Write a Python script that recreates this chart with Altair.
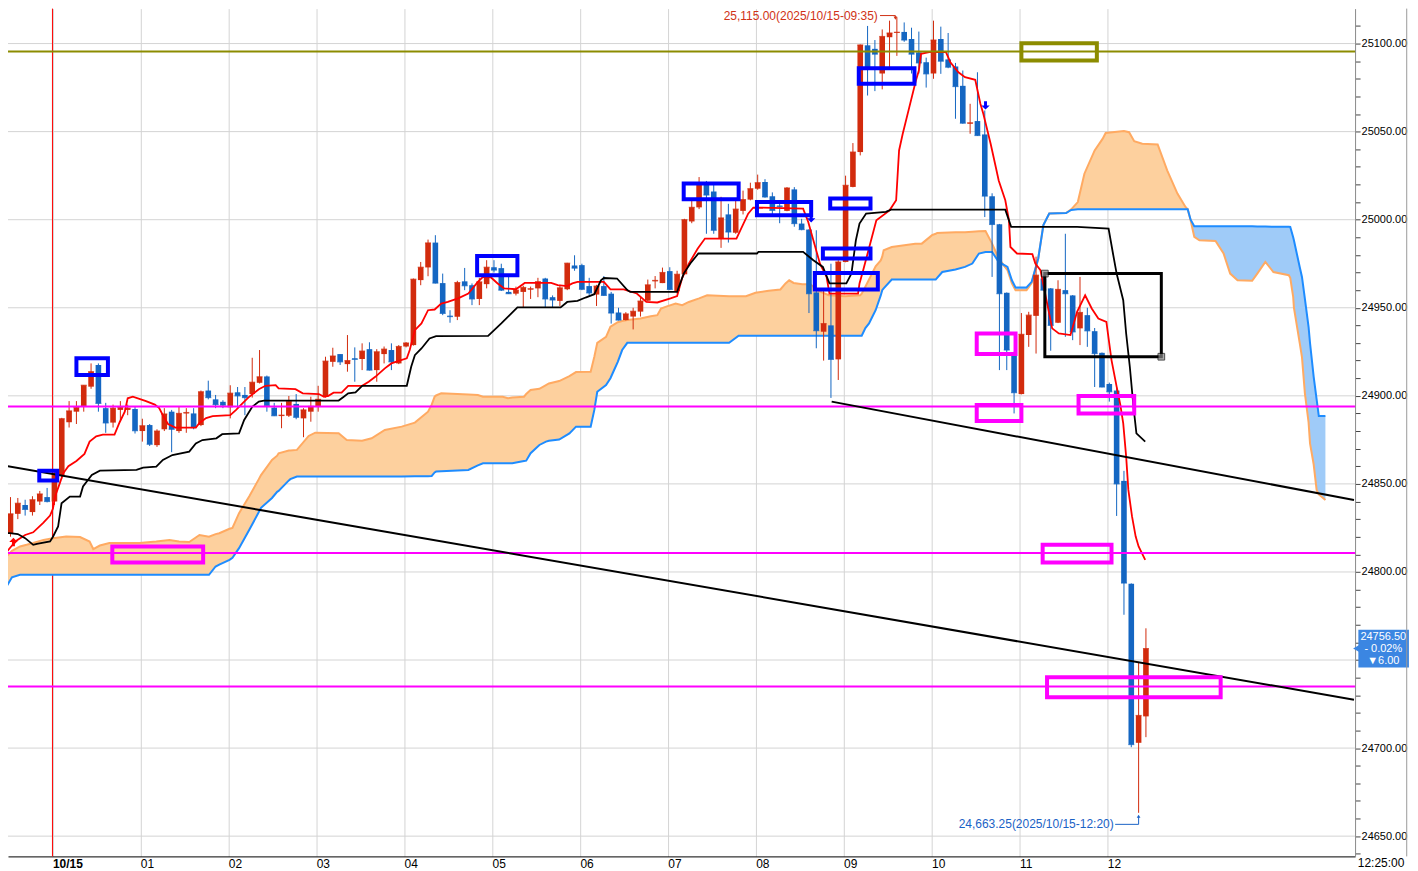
import altair as alt
import pandas as pd

# ---------------- data ----------------
# 5-minute bars, index 0 = 10/15 00:00
cdl_i = list(range(-7, 150))
cdl_o = [24816.7, 24822, 24833, 24838, 24834, 24840, 24842.5,
         24840, 24855, 24885, 24891, 24894, 24905.2, 24917.5, 24893, 24884.8, 24892, 24892, 24892.5,
         24880, 24883.4, 24872, 24881, 24891, 24880, 24890, 24890, 24883.4, 24903, 24898, 24896.6,
         24893.5, 24902, 24900.5, 24901, 24907.4, 24911, 24893.3, 24888.5, 24888.7, 24895.4, 24887.2, 24891,
         24894.2, 24899.5, 24919.3, 24923.7, 24918, 24921.3, 24920.9, 24926.5, 24914.6, 24923.7, 24926, 24918.4,
         24928, 24928.8, 24965.7, 24972.9, 24987, 24964, 24945.5, 24944.9, 24965, 24962.8, 24955, 24963.4,
         24973, 24972.5, 24959, 24958, 24959, 24960.3, 24961, 24966.6, 24956, 24953.9, 24960.5, 24974,
         24974.2, 24962.3, 24957.5, 24962.3, 24958, 24947.3, 24943, 24945, 24947.8, 24954, 24965, 24964,
         24970.8, 24959.5, 24969, 24999, 25007, 25020, 25016, 24989.3, 25003, 24992.6, 25005, 25011.4,
         25017.6, 25021.4, 25013.3, 25008, 25005, 25017.2, 24997.8, 24994.4, 24958.7, 24936.4, 24940, 24920.7,
         24976, 25018.6, 25038.4, 25099, 25097, 25083, 25103.6, 25106, 25106.6, 25102.6, 25095, 25089.4,
         25083, 25102.6, 25091, 25087, 25076, 25054.5, 25056, 25048.4, 25013.3, 24997.4, 24958.5, 24924.7,
         24901, 24934.5, 24945.4, 24966.6, 24961, 24941.5, 24960, 24957, 24938.3, 24945.8, 24936.7, 24924.4,
         24906.7, 24903, 24851.7, 24793.3, 24703, 24718]
cdl_h = [24826, 24842.5, 24842, 24841, 24843, 24846, 24847.7,
         24857, 24887.5, 24897, 24897, 24906, 24918.4, 24918.4, 24896, 24895, 24897, 24895, 24894,
         24887, 24884, 24881, 24893, 24892, 24894, 24893, 24893, 24903, 24908.6, 24900.5, 24897.5,
         24906, 24905, 24905, 24921.6, 24926, 24911.5, 24896, 24896, 24899.9, 24901, 24893, 24899.5,
         24905.7, 24922.2, 24927.3, 24923.7, 24934.5, 24927.5, 24929.8, 24930.4, 24926.5, 24928, 24929.8, 24928.8,
         24930.5, 24966.6, 24976, 24988.7, 24991.2, 24969.4, 24948.6, 24965.3, 24972.6, 24963.8, 24967, 24977,
         24977, 24975, 24968, 24962, 24962.5, 24962, 24967, 24967, 24957, 24963, 24975.5, 24979.8,
         24975, 24967, 24963, 24968, 24959, 24950, 24947.5, 24950, 24956, 24966, 24968, 24972.8,
         24973, 24971, 25000.5, 25011, 25024.2, 25022, 25021, 25013, 25009, 25011, 25016.5, 25021,
         25025.6, 25023, 25015.5, 25011, 25018.5, 25018.5, 25000.5, 24994.6, 24994, 24960, 24975, 24977,
         25025, 25043.5, 25099.5, 25110, 25102, 25108, 25113, 25115, 25112, 25109, 25106.8, 25092,
         25113, 25109.6, 25106, 25089, 25084.7, 25065.8, 25083.7, 25062, 25015, 24997.6, 24958.7, 24925,
         24947, 24947.7, 24979, 24969, 24961.2, 24965.6, 24992, 24957.2, 24967.5, 24950, 24938.5, 24924.6,
         24907.5, 24905, 24857.4, 24793.5, 24749, 24768]
cdl_l = [24814, 24820, 24830, 24832, 24832, 24838, 24839.5,
         24838, 24853, 24882, 24884, 24891, 24904, 24891, 24879, 24882, 24886, 24889, 24878.6,
         24874, 24871.5, 24871, 24880, 24868, 24879, 24879, 24881, 24882.8, 24898, 24893, 24893,
         24887.2, 24893, 24889, 24899, 24907, 24891, 24888.5, 24881.6, 24888, 24886.7, 24876.5, 24885.3,
         24891, 24899, 24916.5, 24917.5, 24913.7, 24908, 24914.6, 24914.4, 24908, 24918.4, 24914.6, 24918,
         24927.5, 24928.5, 24962.8, 24967.9, 24963.8, 24945.8, 24941.5, 24943, 24960, 24951.5, 24951.5, 24961,
         24970, 24959.5, 24957.8, 24957, 24950, 24955, 24956, 24950, 24950, 24951, 24960, 24971,
         24960, 24957, 24951, 24956.8, 24941, 24942.8, 24942.8, 24937.7, 24945, 24953.5, 24961, 24964,
         24960, 24958, 24968.8, 24998, 25006, 24992, 24992, 24984, 24987, 24992, 25003, 25011,
         25017, 25012.5, 25001.8, 24998, 25004.8, 24996, 24994, 24947, 24927, 24920, 24898.8, 24909,
         24975.8, 25018.4, 25036.5, 25070.5, 25073, 25074, 25086.6, 25093, 25101, 25083, 25083, 25075,
         25080, 25082.8, 25086, 25057.3, 25054.5, 25048.8, 25047.6, 25001.5, 24967.5, 24914.6, 24914.6, 24890,
         24900.8, 24927.8, 24924, 24959.8, 24925.6, 24941.3, 24933.5, 24931.6, 24928.8, 24927.8, 24905, 24904.8,
         24896.7, 24831.8, 24775.7, 24700.5, 24663.25, 24706.2]
cdl_c = [24822.4, 24833, 24839, 24835.5, 24841, 24844.3, 24840,
         24856, 24887, 24891.4, 24893.4, 24906, 24913.7, 24895.7, 24884.6, 24893, 24893.4, 24893, 24880.2,
         24883, 24872.5, 24880, 24889.7, 24881, 24890, 24890.5, 24882, 24902.3, 24899, 24895, 24894.7,
         24901.5, 24900, 24899, 24907.7, 24910.8, 24894.4, 24888.7, 24889, 24896.7, 24887.8, 24892, 24894,
         24898, 24919.7, 24922.6, 24919.3, 24920, 24920.7, 24925.4, 24914.6, 24925, 24926.5, 24919.3, 24928,
         24930, 24966.2, 24973, 24986.8, 24964, 24946.8, 24945, 24964.3, 24962.5, 24955, 24964.7, 24973,
         24971.4, 24960, 24958, 24960, 24961.5, 24960.8, 24964.8, 24955, 24954.4, 24961.3, 24975.3, 24972.5,
         24960.5, 24958.4, 24962.3, 24957, 24947, 24943, 24946.5, 24948, 24953.8, 24963, 24965.5, 24970,
         24960.4, 24969, 25000, 25007, 25021, 25014, 24994, 25001, 24993, 25006, 25011.4, 25017.6,
         25021, 25012.9, 25005.3, 25007.5, 25018, 24997.8, 24994.4, 24958, 24937, 24941, 24920.7, 24976,
         25019.5, 25038.4, 25099.2, 25085.7, 25094, 25104, 25106, 25106.4, 25102, 25094, 25089, 25082.8,
         25102, 25090, 25086.6, 25075.6, 25054.8, 25055, 25047.8, 25013.4, 24997.3, 24958, 24926, 24901.8,
         24934.9, 24945.8, 24968.5, 24960, 24940, 24960.4, 24958, 24936.3, 24947.3, 24936.9, 24924, 24905,
         24902.3, 24850, 24793.7, 24702, 24718.5, 24756.5]

# conversion line (red) and base line (black): (bar index, price)
tenkan = [(-7.4, 24812), (-6.4, 24812), (-5.8, 24815), (-5.1, 24818), (-4, 24821), (-2.9, 24822.5),
          (-1.5, 24828), (-0.6, 24832), (-0.2, 24836), (0.1, 24843), (0.7, 24850), (1.2, 24856),
          (1.9, 24860), (3, 24863), (4.1, 24867), (4.8, 24874), (5.7, 24877), (6.6, 24878), (8.2, 24878),
          (8.9, 24885), (9.6, 24891), (10, 24898.6), (10.7, 24899.5), (12.5, 24897), (13.7, 24895),
          (14.3, 24893), (14.8, 24889), (15.5, 24884), (16.5, 24882), (19.3, 24882), (19.8, 24884.6),
          (20.7, 24887.4), (21.6, 24888.5), (24, 24889), (24.8, 24892), (25.7, 24895.8), (26.6, 24899.5),
          (27.2, 24901.4), (27.9, 24903.7), (28.8, 24905.7), (30.2, 24906.1), (30.6, 24904.2),
          (32.9, 24903.8), (33.9, 24901.4), (36.1, 24901), (36.8, 24899.5), (37.4, 24900), (38.1, 24901.8),
          (39.2, 24901.8), (40.1, 24905.7), (42, 24905.7), (42.9, 24908), (43.8, 24910.8), (45.1, 24915.6),
          (46, 24918.4), (46.9, 24919.7), (48.1, 24921.3), (48.5, 24926), (49.2, 24937.3), (50.1, 24941.1),
          (51, 24948.6), (51.9, 24949), (52.8, 24952.4), (53.7, 24953.3), (55.1, 24955.3), (56.5, 24958.1),
          (57.8, 24964.7), (58.5, 24967.5), (59.6, 24967.2), (60.5, 24963.8), (61.4, 24961), (63, 24960.5),
          (64.2, 24964.1), (67.8, 24964.1), (68.7, 24962.8), (70, 24962.3), (70.7, 24963.8), (71.4, 24964.7),
          (75, 24964.7), (75.9, 24960.5), (77.7, 24960.4), (79.5, 24958.1), (80.8, 24953.3), (82.3, 24953),
          (84.1, 24955.3), (85, 24956.6), (85.7, 24967), (86.6, 24975), (87.8, 24983.5), (88.8, 24989.3),
          (93.1, 24989.3), (94.7, 25003.4), (95.4, 25006.9), (102.2, 25006.3), (102.9, 24998.7),
          (104.5, 24975), (105.4, 24967.5), (105.8, 24958), (109.7, 24958), (109.9, 24963.8),
          (110.4, 24971.3), (112.2, 24999.7), (114, 25005.3), (114.9, 25011), (115.3, 25039.3),
          (115.8, 25048.8), (116.7, 25063.9), (117.6, 25079), (118, 25084.7), (118.3, 25094.2),
          (119.4, 25095.1), (121.7, 25095.1), (122.3, 25089.4), (123.4, 25083.7), (124.3, 25080.9),
          (125.7, 25079.4), (126.4, 25065.8), (126.8, 25060.1), (127.8, 25043.1), (128.5, 25029.9),
          (128.9, 25022.3), (129.8, 25011), (130.3, 24999.7), (130.5, 24984.5), (131.4, 24980.8),
          (133.5, 24980.4), (133.9, 24975.1), (134.6, 24971.3), (136.2, 24938.3), (137.1, 24935.4),
          (138.7, 24934.5), (139.6, 24947.7), (140.7, 24957.1), (141.6, 24949.6), (142.5, 24943.9),
          (143.6, 24942), (144.3, 24920.3), (145, 24905.2), (145.5, 24895), (145.9, 24884.4),
          (146.3, 24865.5), (146.6, 24846.6), (147.1, 24831.5), (147.6, 24820.1), (148, 24814.5),
          (148.9, 24806.9)]
kijun = [(-7.4, 24822), (-6.1, 24822), (-5, 24821.5), (-4, 24819.2), (-2.9, 24815.4), (-2.4, 24816),
         (-0.6, 24817.3), (-0.2, 24820), (0.5, 24825.8), (0.97, 24839), (2.1, 24842.8), (3.5, 24842.8),
         (3.9, 24848.5), (5.1, 24855.1), (6.2, 24857.5), (11.2, 24857.9), (12.1, 24859.2), (13.9, 24859.8),
         (14.8, 24863.6), (16.1, 24866.4), (18.4, 24868.3), (19.3, 24873), (20.2, 24874.9), (22.1, 24875.9),
         (22.9, 24878.2), (25.2, 24878.7), (25.9, 24886.3), (27, 24893.8), (27.9, 24896.7), (28.6, 24897.3),
         (38.8, 24897.3), (39.5, 24899.5), (40.1, 24901.4), (41.1, 24902), (42, 24905.7), (48.1, 24905.7),
         (48.7, 24916.5), (49.2, 24923.1), (50.1, 24926.9), (51.2, 24932.6), (52.1, 24933.9), (59.2, 24934),
         (61, 24941.1), (63.2, 24950.2), (69.1, 24950.2), (70, 24953.3), (71.4, 24953.9), (72.5, 24955.8),
         (73.7, 24957.7), (74.6, 24965.6), (75, 24966.9), (76.8, 24966.6), (78.2, 24960), (78.6, 24959),
         (85, 24959), (85.9, 24969.4), (86.8, 24975.1), (87.9, 24980.8), (95.9, 24980.8), (96.1, 24981.7),
         (102.2, 24981.7), (103.6, 24977), (104.9, 24973.2), (105.8, 24963.8), (108.1, 24963.8),
         (108.8, 24969.4), (109.4, 24988.3), (109.9, 24997.8), (110.8, 25003.5), (113.5, 25004.4),
         (114.2, 25005.7), (129.8, 25005.7), (130.6, 24995.9), (139.6, 24995.9), (143.9, 24995),
         (144.5, 24980.8), (145, 24969.4), (145.9, 24954.3), (146.3, 24935.4), (146.8, 24916.5),
         (147.3, 24893.8), (147.7, 24878.7), (148.9, 24874)]

# leading spans A (orange) and B (blue): (bar index, span A, span B)
cloud = [(-7.4, 24803, 24785), (-6.5, 24809, 24792), (-5.8, 24812, 24797), (-4.7, 24814.5, 24798.4),
         (-3.8, 24815.4, 24798.4), (-2.9, 24816.4, 24798.4), (-1.5, 24818.2, 24798.4), (-0.2, 24819.2, 24798.4),
         (1.6, 24820.1, 24798.4), (3.5, 24819.8, 24798.4), (4.8, 24817.3, 24798.4), (5.3, 24813, 24798.4),
         (6.2, 24815, 24798.4), (7.5, 24816.4, 24798.4), (11.6, 24816.4, 24798.4), (13.9, 24817.3, 24798.4),
         (15.7, 24818.2, 24798.4), (17, 24817.3, 24798.4), (18.4, 24817, 24798.4), (19.8, 24821, 24798.4),
         (21.1, 24820, 24798.4), (22, 24821.5, 24803.1), (22.5, 24822, 24804.2), (23.9, 24824.5, 24806.9),
         (24.3, 24825, 24808), (25.2, 24833.4, 24813.5), (26.6, 24843, 24824), (27.9, 24852.7, 24834),
         (28.2, 24855, 24836.4), (29.7, 24863.6, 24842), (30.4, 24866, 24845.5), (30.6, 24867.4, 24846),
         (32, 24868.9, 24852), (32.2, 24869, 24852.7), (33.1, 24869.3, 24854.2), (34.7, 24877.2, 24854.2),
         (35.6, 24879.1, 24854.2), (38.8, 24878.7, 24854.2), (39.9, 24874.9, 24854.2), (42, 24874.5, 24854.2),
         (43.3, 24875.9, 24854.2), (45.1, 24880.6, 24854.2), (47.4, 24882.5, 24854.2), (49.2, 24884.8, 24854.3),
         (51, 24891, 24854.4), (51.5, 24895, 24854.5), (51.9, 24899.5, 24856.5), (52.1, 24900.2, 24857),
         (52.8, 24901.4, 24857.2), (56.5, 24900.8, 24857.9), (57.8, 24900.5, 24860.5), (58.5, 24899.5, 24861.7),
         (61.2, 24899.5, 24861.7), (61.9, 24898.6, 24861.7), (62.5, 24899, 24861.7), (64.1, 24899.5, 24863),
         (64.4, 24901, 24863.2), (65, 24903.3, 24867.4), (66.2, 24904, 24872.1), (67.1, 24906.1, 24874),
         (67.5, 24907, 24874.5), (68.9, 24908.4, 24875.2), (70.3, 24911.2, 24878.7), (71.2, 24913.5, 24882.5),
         (73.2, 24913.7, 24882.5), (73.7, 24922.2, 24892), (74.1, 24930.1, 24902.3), (75.3, 24933.5, 24906.1),
         (75.9, 24939.2, 24910), (76.2, 24940, 24912.8), (76.9, 24941.8, 24919.3), (77.5, 24942.5, 24926),
         (78.2, 24943, 24930.1), (80, 24943.9, 24930.1), (81.4, 24945.2, 24930.1), (82.3, 24945.8, 24930.1),
         (82.8, 24949.6, 24930.1), (83.7, 24950.9, 24930.1), (84.8, 24952.4, 24930.1), (85.7, 24951.5, 24930.1),
         (86.6, 24953.3, 24930.1), (88, 24955.3, 24930.1), (89.1, 24957.1, 24930.1), (92.1, 24956.6, 24930.1),
         (93.4, 24956.6, 24934.1), (94.4, 24956.6, 24934.1), (95.7, 24958.5, 24934.1), (97.5, 24959.6, 24934.1),
         (99.1, 24960.4, 24934.1), (99.8, 24963.8, 24934.1), (100.3, 24965.6, 24934.1), (100.9, 24964.1, 24934.1),
         (102.1, 24963.4, 24934.1), (103.2, 24963.4, 24934.1), (103.7, 24961.5, 24934.1), (104.3, 24959.6, 24934.1),
         (105.7, 24957.1, 24934.1), (107.9, 24956.6, 24934.1), (110, 24957.1, 24934.1), (110.2, 24958, 24934.1),
         (110.7, 24961.9, 24938.5), (111.2, 24966, 24941.1), (111.6, 24969.4, 24944.5), (112.1, 24973.5, 24948.6),
         (112.8, 24976.9, 24957), (113, 24979, 24960), (113.2, 24982.6, 24961), (114.3, 24984.5, 24966),
         (117.5, 24986.4, 24966), (118.4, 24986.4, 24966), (119.8, 24991.2, 24966), (120.3, 24992, 24966),
         (120.5, 24992.5, 24967), (121.2, 24992.6, 24970.3), (123, 24992.8, 24971.7), (124.3, 24992.9, 24973.2),
         (125.3, 24993.2, 24975.1), (126.2, 24993.4, 24980.8), (127.1, 24993.6, 24981.7), (128, 24986.4, 24981.7),
         (128.9, 24978, 24976), (130.1, 24971.3, 24973.2), (130.7, 24963.8, 24965.6), (131.2, 24960, 24961.5),
         (132.7, 24960, 24961.5), (133.4, 24964, 24964.7), (134.3, 24978, 24978), (135, 24997, 24997),
         (135.8, 25003.5, 25003.5), (138.1, 25003.8, 25003.8), (138.8, 25005.9, 25005.5), (139.7, 25010, 25005.9),
         (140.6, 25026.1, 25005.9), (142, 25039.3, 25005.9), (143.1, 25046, 25005.9), (143.5, 25049.2, 25005.9),
         (146, 25050.3, 25005.9), (146.7, 25049.7, 25005.9), (147.4, 25044.6, 25005.9), (148.5, 25043.1, 25005.9),
         (150.6, 25042.7, 25005.9), (151.9, 25028, 25005.9), (153.3, 25014.8, 25005.9), (154.4, 25007.2, 25005.9),
         (154.7, 25005.9, 25005.9), (155.1, 24999.7, 25000), (155.6, 24990.2, 24996.3), (156.3, 24988.3, 24996.3),
         (158.5, 24987.9, 24996.3), (159.6, 24980.8, 24996.3), (160.5, 24969.4, 24996.3), (161.5, 24965.6, 24996.3),
         (163.5, 24965.3, 24996.3), (164.2, 24969.4, 24996.2), (165.3, 24976, 24996.1), (166.4, 24970.3, 24996),
         (168.5, 24968.5, 24996), (168.7, 24967, 24995.9), (169.1, 24956.2, 24990), (169.2, 24950, 24988.3),
         (170, 24929.8, 24973), (170.3, 24922, 24967.5), (170.7, 24901.4, 24955), (171.2, 24885, 24939.2),
         (171.4, 24873, 24930), (171.9, 24861, 24910.8), (172.3, 24846.6, 24898), (172.6, 24844, 24888.5),
         (173.5, 24840.9, 24888.5)]

hline_vals = [25095.5, 24894.0, 24810.8, 24735.0]
hline_cols = ["#8c8c00", "#ff00ff", "#ff00ff", "#ff00ff"]

# trend lines: x1, y1, x2, y2
trend = [(-7.43, 24860.8, 177.4, 24727.5), (106.1, 24896.7, 177.4, 24840.9)]

# annotation boxes: x1, x2, y1, y2, colour
boxes = [(3.0, 7.3, 24921.3, 24911.8, "#0000ff"), (-2.07, 0.38, 24857.5, 24851.9, "#0000ff"),
         (57.7, 63.2, 24979.4, 24968.5, "#0000ff"), (85.9, 93.4, 25020.5, 25011.6, "#0000ff"),
         (95.9, 103.3, 25010, 25002.5, "#0000ff"), (109.8, 117.4, 25086, 25077.2, "#0000ff"),
         (105.9, 111.4, 25012, 25006.3, "#0000ff"), (104.9, 111.4, 24983.6, 24977.9, "#0000ff"),
         (103.8, 112.4, 24969.8, 24960.4, "#0000ff"),
         (7.9, 20.3, 24814.5, 24805.4, "#ff00ff"), (125.9, 131.2, 24935.4, 24923.7, "#ff00ff"),
         (125.9, 132.0, 24894.8, 24885.7, "#ff00ff"), (139.8, 147.4, 24899.9, 24890, "#ff00ff"),
         (134.9, 144.3, 24815.4, 24805.4, "#ff00ff"), (135.5, 159.2, 24740.2, 24728.9, "#ff00ff"),
         (132.0, 142.3, 25100.2, 25090.4, "#8c8c00")]
black_box = [(135.2, 151.1, 24969.4, 24922.2)]

hour_labels = ["10/15", "01", "02", "03", "04", "05", "06", "07", "08", "09", "10", "11", "12"]
hour_ticks = [-0.27 + 12 * h for h in range(len(hour_labels))]

hi_text = "25,115.00(2025/10/15-09:35)"
lo_text = "24,663.25(2025/10/15-12:20)"
last_lines = ["24756.50", "- 0.02%", "▼6.00"]

# ---------------- chart ----------------
RED, BLUE = "#d22b0d", "#1466c2"
FONT = "Liberation Sans"
W, H = 1349, 849
xs = alt.Scale(domain=[-6.34, 177.55], nice=False, zero=False, padding=0)
ys = alt.Scale(domain=[24638.5, 25119.84], nice=False, zero=False, padding=0)
lab_js = "[" + ",".join("'%s'" % s for s in hour_labels) + "]"
xaxis = alt.Axis(values=hour_ticks, labelExpr=lab_js + "[round((datum.value + 0.27) / 12)]",
                 grid=True, gridColor="#d4d4d4", gridWidth=1, ticks=False, domainColor="#000000",
                 labelAlign="left", labelPadding=2, labelFont=FONT, labelFontSize=12, labelColor="#000",
                 labelFontWeight=alt.condition("datum.value < 0", alt.value("bold"), alt.value("normal")),
                 labelOverlap=False, title=None)
yaxis = alt.Axis(orient="right", values=list(range(24640, 25121, 10)),
                 labelExpr="(datum.value % 50 === 0 && datum.value !== 24750) ? format(datum.value, '.2f') : ''",
                 grid=False, tickSize=5, tickColor="#444", domainColor="#8a8a8a", labelFont=FONT,
                 labelFontSize=11, labelColor="#000", labelPadding=1, labelOverlap=False, title=None)


def X(f):
    return alt.X(f + ":Q", scale=xs, axis=xaxis)


def Y(f):
    return alt.Y(f + ":Q", scale=ys, axis=yaxis)


cdf = pd.DataFrame({"x": cdl_i, "o": cdl_o, "h": cdl_h, "l": cdl_l, "c": cdl_c})
cdf["dir"] = ["up" if c >= o else "down" for o, c in zip(cdf.o, cdf.c)]
col = alt.Color("dir:N", scale=alt.Scale(domain=["up", "down"], range=[RED, BLUE]), legend=None)

tdf = pd.DataFrame(tenkan, columns=["x", "y"])
kdf = pd.DataFrame(kijun, columns=["x", "y"])
cl = pd.DataFrame(cloud, columns=["x", "a", "b"])
cl["lo"] = cl[["a", "b"]].min(axis=1)
hdf = pd.DataFrame({"y": hline_vals, "col": hline_cols})
trdf = pd.DataFrame(trend, columns=["x", "y", "x2", "y2"])
bdf = pd.DataFrame(boxes, columns=["x", "x2", "y", "y2", "col"])
bbdf = pd.DataFrame(black_box, columns=["x", "x2", "y", "y2"])
gdf = pd.DataFrame({"y": list(range(24650, 25101, 50))})
day_df = pd.DataFrame({"x": hour_ticks[:1]})

layers = []
layers.append(alt.Chart(gdf).mark_rule(color="#d4d4d4", strokeWidth=1).encode(y=Y("y")))
layers.append(alt.Chart(day_df).mark_rule(color="#ff0000", strokeWidth=1).encode(x=X("x")))
layers.append(alt.Chart(cl).mark_area(color="#fdd09e", opacity=1).encode(x=X("x"), y=Y("a"), y2="lo"))
layers.append(alt.Chart(cl).mark_area(color="#9fcbf8", opacity=1).encode(x=X("x"), y=Y("b"), y2="lo"))
layers.append(alt.Chart(cl).mark_line(color="#ffaa62", strokeWidth=2).encode(x=X("x"), y=Y("a")))
layers.append(alt.Chart(cl).mark_line(color="#1e8cff", strokeWidth=2).encode(x=X("x"), y=Y("b")))
layers.append(alt.Chart(cdf).mark_rule(strokeWidth=1).encode(x=X("x"), y=Y("l"), y2="h", color=col))
layers.append(alt.Chart(cdf).mark_tick(orient="horizontal", size=6, thickness=1.2).encode(
    x=X("x"), y=Y("c"), color=col))
layers.append(alt.Chart(cdf).mark_bar(size=5.6).encode(x=X("x"), y=Y("o"), y2="c", color=col))
layers.append(alt.Chart(tdf).mark_line(color="#ff0000", strokeWidth=1.8).encode(x=X("x"), y=Y("y")))
layers.append(alt.Chart(kdf).mark_line(color="#000000", strokeWidth=1.8).encode(x=X("x"), y=Y("y")))
layers.append(alt.Chart(hdf).mark_rule(strokeWidth=2).encode(
    y=Y("y"), color=alt.Color("col:N", scale=None)))
layers.append(alt.Chart(trdf).mark_rule(color="#000", strokeWidth=2).encode(
    x=X("x"), y=Y("y"), x2="x2", y2="y2"))
layers.append(alt.Chart(bdf).mark_rect(filled=False, strokeWidth=4).encode(
    x=X("x"), x2="x2", y=Y("y"), y2="y2", color=alt.Color("col:N", scale=None)))
layers.append(alt.Chart(bbdf).mark_rect(filled=False, strokeWidth=3, color="#000").encode(
    x=X("x"), x2="x2", y=Y("y"), y2="y2"))
handles = pd.DataFrame({"x": [black_box[0][0], black_box[0][1]], "y": [black_box[0][2], black_box[0][3]]})
layers.append(alt.Chart(handles).mark_square(size=45, filled=True, color="#8a8a8a", stroke="#000",
                                             strokeWidth=1).encode(x=X("x"), y=Y("y")))
down_arrow = "M-0.35,-1L0.35,-1L0.35,0L1,0L0,1L-1,0L-0.35,0Z"
up_arrow = "M-0.35,1L0.35,1L0.35,0L1,0L0,-1L-1,0L-0.35,0Z"
sig_dn = pd.DataFrame({"x": [103.3, 127.1], "y": [25000.8, 25064.9]})
sig_up = pd.DataFrame({"x": [-5.6], "y": [24817.0]})
layers.append(alt.Chart(sig_dn).mark_point(shape=down_arrow, size=70, filled=True, color="#0000ff",
                                           opacity=1).encode(x=X("x"), y=Y("y")))
layers.append(alt.Chart(sig_up).mark_point(shape=up_arrow, size=70, filled=True, color="#ff0000",
                                           opacity=1).encode(x=X("x"), y=Y("y")))
hi_df = pd.DataFrame({"x": [112.4], "y": [25115.9], "t": [hi_text]})
lo_df = pd.DataFrame({"x": [144.6], "y": [24656.7], "t": [lo_text]})
layers.append(alt.Chart(hi_df).mark_text(align="right", baseline="middle", font=FONT, fontSize=12,
                                         color="#d03216").encode(x=X("x"), y=Y("y"), text="t:N"))
layers.append(alt.Chart(lo_df).mark_text(align="right", baseline="middle", font=FONT, fontSize=12,
                                         color="#1a62c6").encode(x=X("x"), y=Y("y"), text="t:N"))
hi_ln = pd.DataFrame({"x": [112.7, 114.8], "y": [25115.9, 25115.9], "x2": [114.8, 114.8],
                      "y2": [25115.9, 25114.6]})
lo_ln = pd.DataFrame({"x": [144.8, 148.0], "y": [24656.7, 24656.7], "x2": [148.0, 148.0],
                      "y2": [24656.7, 24661.0]})
layers.append(alt.Chart(hi_ln).mark_rule(color="#d03216", strokeWidth=1).encode(
    x=X("x"), y=Y("y"), x2="x2", y2="y2"))
layers.append(alt.Chart(lo_ln).mark_rule(color="#1a62c6", strokeWidth=1).encode(
    x=X("x"), y=Y("y"), x2="x2", y2="y2"))
layers.append(alt.Chart(pd.DataFrame({"x": [114.8], "y": [25114.4]})).mark_point(
    shape="triangle-down", size=14, filled=True, color="#d03216", opacity=1).encode(x=X("x"), y=Y("y")))
layers.append(alt.Chart(pd.DataFrame({"x": [148.0], "y": [24661.3]})).mark_point(
    shape="triangle-up", size=14, filled=True, color="#1a62c6", opacity=1).encode(x=X("x"), y=Y("y")))
box_df = pd.DataFrame({"x": [178.0], "x2": [184.9], "y": [24767.2], "y2": [24745.7]})
layers.append(alt.Chart(box_df).mark_rect(color="#3b86e2").encode(x=X("x"), x2="x2", y=Y("y"), y2="y2"))
layers.append(alt.Chart(pd.DataFrame({"x": [177.7], "y": [24756.5]})).mark_point(
    shape="triangle-left", size=50, filled=True, color="#3b86e2", opacity=1).encode(x=X("x"), y=Y("y")))
lp_df = pd.DataFrame({"x": [181.4] * 3, "y": [24763.3, 24756.5, 24749.6], "t": last_lines})
layers.append(alt.Chart(lp_df).mark_text(align="center", baseline="middle", font=FONT, fontSize=11,
                                         color="#ffffff").encode(x=X("x"), y=Y("y"), text="t:N"))
layers.append(alt.Chart(pd.DataFrame({"x": [184.6]})).mark_rule(color="#9a9a9a", strokeWidth=1).encode(
    x=X("x")))
layers.append(alt.Chart(pd.DataFrame({"x": [181.1], "y": [24634.5], "t": ["12:25:00"]})).mark_text(
    align="center", baseline="middle", font=FONT, fontSize=12, color="#000").encode(
    x=X("x"), y=Y("y"), text="t:N"))

chart = alt.layer(*layers).properties(
    width=W, height=H, autosize=alt.AutoSizeParams(type="none"),
    padding={"left": 0, "top": 0, "right": 55, "bottom": 14},
    background="#ffffff").configure_view(strokeWidth=0)

chart.save("out.html", embed_options={"renderer": "svg", "actions": False})
